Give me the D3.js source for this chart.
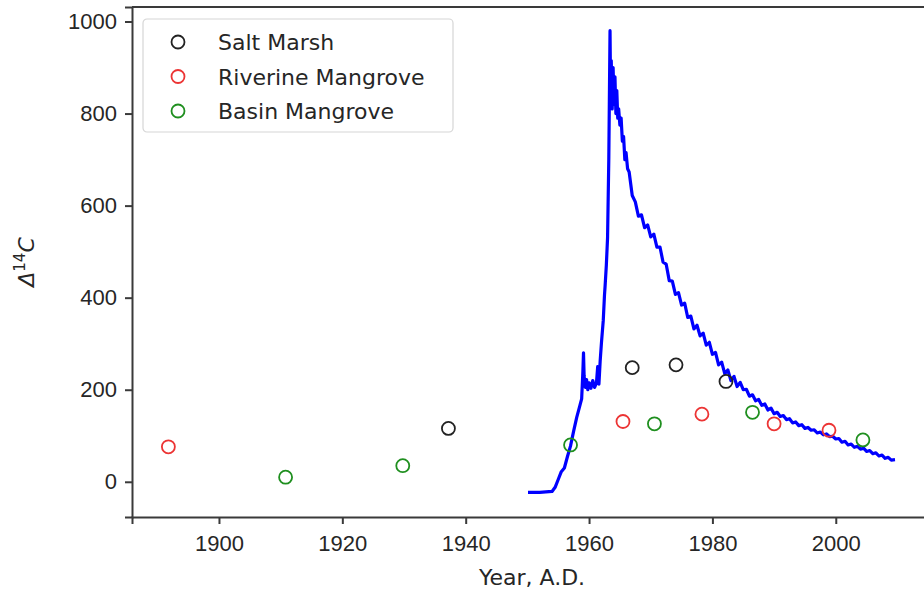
<!DOCTYPE html>
<html>
<head>
<meta charset="utf-8">
<script src="https://cdn.jsdelivr.net/npm/d3@7"></script>
<style>
  body { margin: 0; background: #fff; }
  svg { display: block; font-family: "DejaVu Sans", sans-serif; }
  .axis text { font-size: 22px; fill: #262626; }
  .axis path, .axis line { stroke: #3a3a3a; stroke-width: 2; }
</style>
</head>
<body>
<script>
// sample data
const saltMarsh = [[1937.2, 116], [1967.0, 248], [1974.1, 254], [1982.2, 218]];
const riverine = [[1891.8, 76], [1965.5, 131], [1978.3, 147], [1990.0, 126], [1998.9, 112]];
const basin = [[1910.8, 10], [1929.8, 35], [1957.0, 80], [1970.6, 126], [1986.5, 151], [2004.4, 91]];

// atmospheric bomb curve
const bombCurve = [
  [1950.1, -23], [1951, -23], [1952, -23], [1953, -22], [1954.0, -21], [1954.5, -12],
  [1955.0, 5], [1955.5, 22], [1956.0, 30], [1956.5, 55], [1957.0, 78], [1957.5, 110],
  [1958.0, 140], [1958.5, 165], [1958.8, 180], [1959.0, 240], [1959.1, 280], [1959.2, 230],
  [1959.4, 205], [1959.6, 222], [1959.8, 200], [1960.0, 215], [1960.3, 203], [1960.6, 220],
  [1960.9, 205], [1961.2, 215], [1961.4, 250], [1961.6, 212], [1961.8, 262], [1962.0, 300],
  [1962.3, 350], [1962.5, 405], [1962.6, 425], [1962.8, 470], [1963.0, 530], [1963.2, 700],
  [1963.4, 980], [1963.5, 830], [1963.6, 915], [1963.75, 810], [1963.9, 900], [1964.05, 820],
  [1964.2, 880], [1964.35, 800], [1964.5, 850], [1964.65, 790], [1964.8, 810], [1965.0, 775],
  [1965.2, 790], [1965.4, 740], [1965.6, 750], [1965.8, 700], [1966.0, 715], [1966.25, 680],
  [1966.5, 673], [1967.0, 622], [1967.5, 608], [1968.0, 577], [1968.5, 580], [1969.0, 552],
  [1969.5, 558], [1970.0, 532], [1970.5, 538], [1971.0, 510], [1971.5, 510], [1972.0, 477],
  [1972.5, 473], [1973.0, 437], [1973.5, 436], [1974.0, 407], [1974.5, 411], [1975.0, 384],
  [1975.5, 388], [1976.0, 357], [1976.5, 360], [1977.0, 332], [1977.5, 340], [1978.0, 317],
  [1978.5, 323], [1979.0, 297], [1979.5, 303], [1980.0, 277], [1980.5, 281], [1981.0, 254],
  [1981.5, 260], [1982.0, 235], [1982.5, 243], [1983.0, 220], [1983.5, 229], [1984.0, 207],
  [1984.5, 216], [1985.0, 200], [1985.5, 201], [1986.0, 186], [1986.5, 189], [1987.0, 176],
  [1987.5, 179], [1988.0, 166], [1988.5, 169], [1989.0, 156], [1989.5, 160], [1990.0, 148],
  [1990.5, 151], [1991.0, 142], [1991.5, 144], [1992.0, 135], [1992.5, 137], [1993.0, 128],
  [1993.5, 130], [1994.0, 122], [1994.5, 124], [1995.0, 116], [1995.5, 118], [1996.0, 112],
  [1996.5, 113], [1997.0, 106], [1997.5, 108], [1998.0, 102], [1998.5, 104], [1999.0, 98],
  [1999.5, 99], [2000.0, 93], [2000.5, 94], [2001.0, 86], [2001.5, 88], [2002.0, 80],
  [2002.5, 82], [2003.0, 75], [2003.5, 77], [2004.0, 71], [2004.5, 73], [2005.0, 66],
  [2005.5, 68], [2006.0, 61], [2006.5, 63], [2007.0, 56], [2007.5, 58], [2008.0, 51],
  [2008.5, 53], [2009.0, 47], [2009.6, 48]
];

const xTicks = [1900, 1920, 1940, 1960, 1980, 2000];
const yTicks = [0, 200, 400, 600, 800, 1000];
const legendNames = ["Salt Marsh", "Riverine Mangrove", "Basin Mangrove"];
const legendColors = ["#222222", "#ec3434", "#1f8f1f"];

const W = 924, H = 590;
const margin = { top: 7, right: -8, bottom: 73, left: 132 };
const w = W - margin.left - margin.right,
    h = H - margin.top - margin.bottom;

const svg = d3.select("body").append("svg")
    .attr("width", W)
    .attr("height", H);

const g = svg.append("g")
    .attr("transform", "translate(" + margin.left + "," + margin.top + ")");

const x = d3.scaleLinear().domain([1885.9, 2015.6]).range([0, w]);
const y = d3.scaleLinear().domain([-76.5, 1031.5]).range([h, 0]);

// axes
g.append("g")
    .attr("class", "axis")
    .attr("transform", "translate(0," + h + ")")
    .call(d3.axisBottom(x).tickValues(xTicks).tickFormat(d3.format("d")).tickSizeOuter(0).tickSize(7).tickPadding(11));

g.append("g")
    .attr("class", "axis")
    .call(d3.axisLeft(y).tickValues(yTicks).tickFormat(d3.format("d")).tickSizeOuter(0).tickSize(7).tickPadding(8));

// top + right spine
g.append("path")
    .attr("d", "M0,0H" + w + "V" + h)
    .attr("fill", "none")
    .attr("stroke", "#3a3a3a")
    .attr("stroke-width", 2);

// bomb curve
const line = d3.line()
    .x(d => x(d[0]))
    .y(d => y(d[1]));

g.append("path")
    .datum(bombCurve)
    .attr("d", line)
    .attr("fill", "none")
    .attr("stroke", "#0000ff")
    .attr("stroke-width", 3.2)
    .attr("stroke-linejoin", "round");

// sample points
[saltMarsh, riverine, basin].forEach((pts, i) => {
    g.append("g").selectAll("circle")
        .data(pts)
        .join("circle")
        .attr("cx", d => x(d[0]))
        .attr("cy", d => y(d[1]))
        .attr("r", 6.5)
        .attr("fill", "none")
        .attr("stroke", legendColors[i])
        .attr("stroke-width", 1.8);
});

// legend
const leg = g.append("g").attr("transform", "translate(11,12)");
leg.append("rect")
    .attr("width", 310)
    .attr("height", 113)
    .attr("rx", 4)
    .attr("fill", "#fff")
    .attr("fill-opacity", 0.85)
    .attr("stroke", "#d6d6d6")
    .attr("stroke-width", 1.2);

legendNames.forEach((name, i) => {
    const row = leg.append("g").attr("transform", "translate(0," + (23 + i * 34.5) + ")");
    row.append("circle")
        .attr("cx", 35)
        .attr("r", 6.5)
        .attr("fill", "none")
        .attr("stroke", legendColors[i])
        .attr("stroke-width", 1.8);
    row.append("text")
        .attr("x", 75)
        .attr("y", 8)
        .attr("font-size", 22)
        .attr("fill", "#262626")
        .text(name);
});

// axis labels
svg.append("text")
    .attr("x", 532)
    .attr("y", 585)
    .attr("text-anchor", "middle")
    .attr("font-size", 22)
    .attr("fill", "#262626")
    .text("Year, A.D.");

const yl = svg.append("text")
    .attr("transform", "translate(34," + (margin.top + h / 2) + ") rotate(-90)")
    .attr("text-anchor", "middle")
    .attr("font-size", 22)
    .attr("fill", "#262626");
yl.append("tspan").attr("font-style", "italic").text("Δ");
yl.append("tspan").attr("font-size", 15).attr("dy", -9).text("14");
yl.append("tspan").attr("font-style", "italic").attr("dy", 9).text("C");
</script>
</body>
</html>
